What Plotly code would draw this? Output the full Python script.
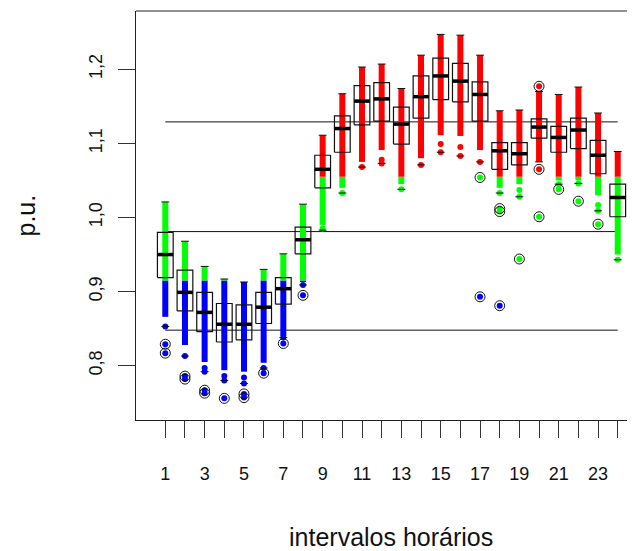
import plotly.graph_objects as go

# hourly voltage profile (p.u.)
HOURS = list(range(1, 25))
Q1 = [0.919, 0.874, 0.846, 0.832, 0.835, 0.857, 0.883, 0.951,
      1.040, 1.088, 1.125, 1.130, 1.099, 1.134, 1.159, 1.156,
      1.130, 1.065, 1.071, 1.107, 1.088, 1.093, 1.059, 1.001]
MEDIAN = [0.950, 0.899, 0.872, 0.856, 0.856, 0.879, 0.904, 0.970,
          1.065, 1.120, 1.157, 1.160, 1.126, 1.163, 1.191, 1.184,
          1.166, 1.090, 1.086, 1.122, 1.108, 1.118, 1.084, 1.027]
Q3 = [0.980, 0.929, 0.899, 0.884, 0.882, 0.899, 0.919, 0.987,
      1.084, 1.137, 1.178, 1.182, 1.149, 1.191, 1.215, 1.208,
      1.183, 1.101, 1.101, 1.133, 1.123, 1.134, 1.104, 1.045]
WHISK_LO = [0.853, 0.813, 0.792, 0.780, 0.776, 0.797, 0.838, 0.909,
            0.983, 1.033, 1.068, 1.073, 1.038, 1.071, 1.088, 1.083,
            1.075, 1.033, 1.028, 1.075, 1.045, 1.046, 1.009, 0.943]
WHISK_HI = [1.021, 0.968, 0.934, 0.917, 0.913, 0.930, 0.951, 1.018,
            1.111, 1.167, 1.203, 1.207, 1.174, 1.219, 1.247, 1.246,
            1.219, 1.144, 1.145, 1.170, 1.166, 1.176, 1.141, 1.089]
# where the dense band of samples stops at the bottom
STRIP_LO = [0.866, 0.828, 0.805, 0.794, 0.792, 0.804, 0.840, 0.913,
            0.990, 1.040, 1.075, 1.091, 1.045, 1.080, 1.111, 1.110,
            1.091, 1.040, 1.045, 1.075, 1.050, 1.050, 1.030, 0.950]
# loose samples between the band and the lower whisker
TAIL = [[0.853], [0.813], [0.797, 0.792], [0.786, 0.780], [0.784, 0.776],
        [0.797], [0.838], [0.909], [0.985], [1.033], [1.068], [1.078, 1.073],
        [1.038], [1.071], [1.099, 1.088], [1.095, 1.083], [1.075], [1.033],
        [1.037, 1.028], [], [1.045], [1.046], [1.017, 1.009], [0.943]]
OUTLIERS = [[0.829, 0.817], [0.786, 0.782], [0.767, 0.763], [0.756],
            [0.762, 0.757], [0.790], [0.830], [0.895], [], [], [], [], [],
            [], [], [], [1.054, 0.893], [1.012, 1.008, 0.881], [0.944],
            [1.177, 1.065, 1.001], [1.038], [1.022], [0.991], []]

LIMITS = [0.915, 1.055]          # blue / green / red classes
REF_LINES = [0.848, 0.981, 1.129]

Y_TICKS = [0.8, 0.9, 1.0, 1.1, 1.2]
Y_TEXT = ['0,8', '0,9', '1,0', '1,1', '1,2']
X_TEXT = [str(h) if h % 2 else '' for h in HOURS]

BLUE, GREEN, RED = '#0000ff', '#00ff00', '#ff0000'
FONT = 'Liberation Sans, Arial, sans-serif'


def colour(v):
    if v < LIMITS[0]:
        return BLUE
    if v < LIMITS[1]:
        return GREEN
    return RED


fig = go.Figure()

# reference lines
for v in REF_LINES:
    fig.add_trace(go.Scatter(x=[HOURS[0], HOURS[-1]], y=[v, v], mode='lines',
                             line=dict(color='#111', width=1)))

# coloured sample bands
bands = [(-9, LIMITS[0], BLUE), (LIMITS[0], LIMITS[1], GREEN), (LIMITS[1], 9, RED)]
for a, b, c in bands:
    xs, ys = [], []
    for h, lo, hi in zip(HOURS, STRIP_LO, WHISK_HI):
        lo2, hi2 = max(lo, a), min(hi, b)
        if lo2 < hi2:
            xs += [h, h, None]
            ys += [lo2, hi2, None]
    fig.add_trace(go.Scatter(x=xs, y=ys, mode='lines', line=dict(color=c, width=6)))

tx, ty = [], []
for h, pts in zip(HOURS, TAIL):
    tx += [h] * len(pts)
    ty += pts
fig.add_trace(go.Scatter(x=tx, y=ty, mode='markers',
                         marker=dict(size=6, color=[colour(v) for v in ty])))

# whisker caps
cx, cy = [], []
for h, lo, hi in zip(HOURS, WHISK_LO, WHISK_HI):
    for v in (lo, hi):
        cx += [h - 0.2, h + 0.2, None]
        cy += [v, v, None]
fig.add_trace(go.Scatter(x=cx, y=cy, mode='lines', line=dict(color='#111', width=1)))

# boxes
bx, by = [], []
for h, a, b in zip(HOURS, Q1, Q3):
    bx += [h - 0.4, h + 0.4, h + 0.4, h - 0.4, h - 0.4, None]
    by += [a, a, b, b, a, None]
fig.add_trace(go.Scatter(x=bx, y=by, mode='lines', line=dict(color='#111', width=1.2)))

mx, my = [], []
for h, m in zip(HOURS, MEDIAN):
    mx += [h - 0.4, h + 0.4, None]
    my += [m, m, None]
fig.add_trace(go.Scatter(x=mx, y=my, mode='lines', line=dict(color='#000', width=3.5)))

# outliers
ox, oy = [], []
for h, pts in zip(HOURS, OUTLIERS):
    ox += [h] * len(pts)
    oy += pts
fig.add_trace(go.Scatter(x=ox, y=oy, mode='markers',
                         marker=dict(size=6, color=[colour(v) for v in oy])))
fig.add_trace(go.Scatter(x=ox, y=oy, mode='markers',
                         marker=dict(size=10, symbol='circle-open', color='#111',
                                     line=dict(width=1))))

axis_common = dict(showline=True, linecolor='#222', linewidth=1, ticks='outside',
                   ticklen=17, tickwidth=1, tickcolor='#333', showgrid=False,
                   zeroline=False, tickfont=dict(family=FONT, size=18, color='#111'))

# the page keeps the browser's 8px body margin, so the figure is 8px smaller
fig.update_layout(
    width=627, height=543,
    margin=dict(l=128, r=0, t=3, b=131),
    plot_bgcolor='white', paper_bgcolor='white',
    showlegend=False, hovermode=False,
    font=dict(family=FONT),
    xaxis=dict(range=[-0.489, 24.878], tickvals=HOURS, ticktext=X_TEXT,
               ticklabelstandoff=20, **axis_common),
    yaxis=dict(range=[0.7268, 1.2786], tickvals=Y_TICKS, ticktext=Y_TEXT,
               tickangle=-90, ticklabelstandoff=9, **axis_common),
    shapes=[dict(type='line', xref='paper', yref='paper', x0=0, x1=1, y0=1, y1=1,
                 line=dict(color='#222', width=1))],
    annotations=[
        dict(text='intervalos horários', xref='paper', yref='paper', x=0.511, y=-0.286,
             xanchor='center', yanchor='middle', showarrow=False,
             font=dict(family=FONT, size=25, color='#111')),
        dict(text='p.u.', xref='paper', yref='paper', x=-0.2224, y=0.5, textangle=-90,
             xanchor='center', yanchor='middle', showarrow=False,
             font=dict(family=FONT, size=25, color='#111')),
    ],
)

fig.write_html('out.html')
